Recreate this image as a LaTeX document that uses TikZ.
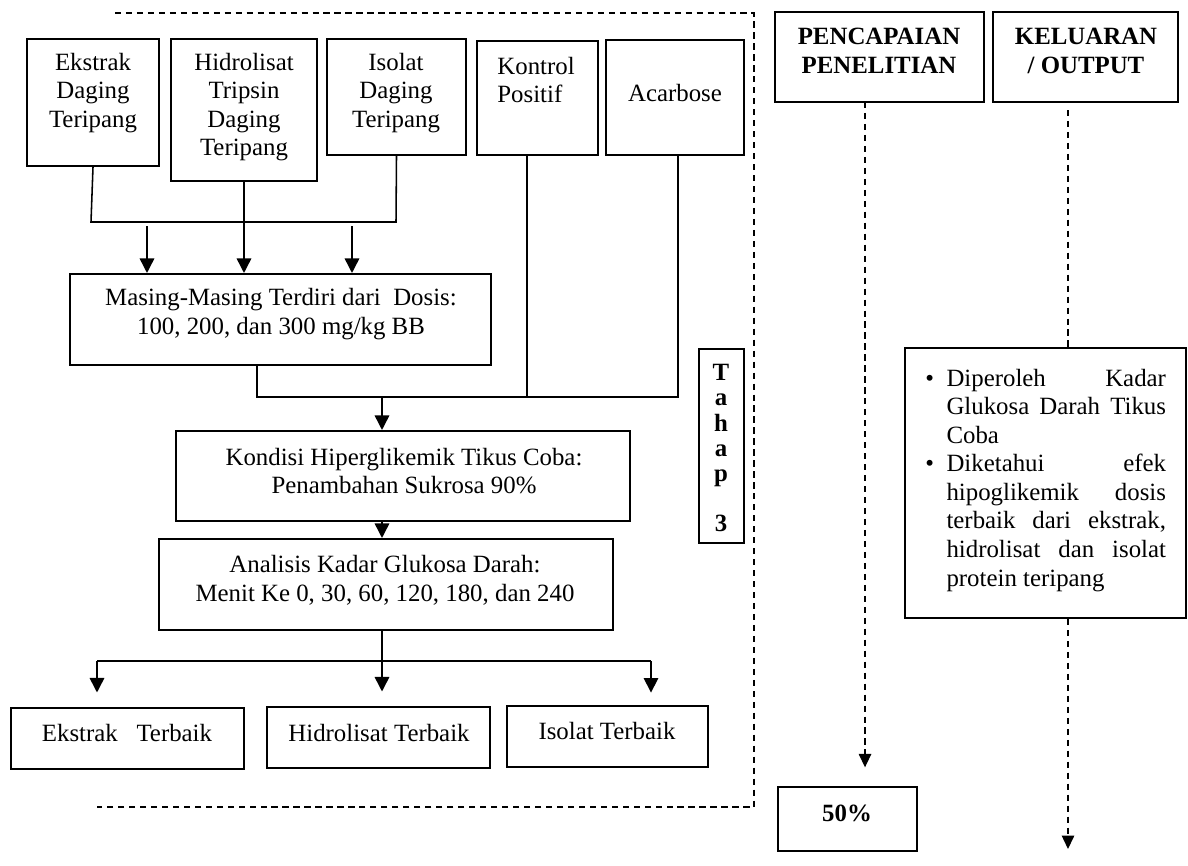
\documentclass[tikz,border=0pt]{standalone}
\usepackage{fontspec}
\setmainfont{Liberation Serif}
\usetikzlibrary{arrows.meta,fit}
\begin{document}
\begin{tikzpicture}[x=0.483pt,y=-0.483pt,
  box/.style={draw, line width=1pt, inner sep=0pt},
  txt/.style={align=center, inner sep=0pt, font=\fontsize{12}{13.8}\selectfont},
  hdr/.style={align=center, inner sep=0pt, font=\fontsize{12}{13.8}\selectfont\bfseries},
  conn/.style={line width=0.75pt},
  arr/.style={conn, -{Triangle[width=7pt,length=7pt]}},
  dsh/.style={line width=0.75pt, dash pattern=on 3pt off 2.3pt},
  darr/.style={dsh, -{Triangle[width=6pt,length=6.5pt]}}]
\useasboundingbox (0,0) rectangle (1188,865);

% dashed frame of stage 3
\draw[dsh] (115,13) -- (754,13) -- (754,807) -- (97,807);

% top boxes
\node[box, fit={(27,39)(159,166)}] (ek) {};
\node[txt] (ekt) at (93,93) {Ekstrak\\Daging\\Teripang};
\node[box, fit={(171,39)(317,181)}] (hi) {};
\node[txt] (hit) at (244,107) {Hidrolisat\\Tripsin\\Daging\\Teripang};
\node[box, fit={(327,39)(466,155)}] (is) {};
\node[txt] (ist) at (396,93) {Isolat\\Daging\\Teripang};
\node[box, fit={(477,41)(598,155)}] (ko) {};
\node[txt, align=left, anchor=west] (kot) at (497,80) {Kontrol\\Positif};
\node[box, fit={(606,40)(744,155)}] (ac) {};
\node[txt] (act) at (675,93) {Acarbose};

% dose box
\node[box, fit={(70,274)(491,365)}] (ma) {};
\node[txt] (mat) at (281,314) {Masing-Masing Terdiri dari~ Dosis:\\100, 200, dan 300 mg/kg BB};

% junction of first three
\coordinate (jA) at (91,222);
\coordinate (jB) at (396,222);
\draw[conn] (ek.south) -- (jA) -- (jB) -- (is.south);
\draw[arr] (hi.south) -- (hi.south |- ma.north);
\coordinate (a1) at (147,226);
\coordinate (a3) at (352,226);
\draw[arr] (a1) -- (a1 |- ma.north);
\draw[arr] (a3) -- (a3 |- ma.north);

% hyperglycemic box
\node[box, fit={(176,431)(630,521)}] (kd) {};
\node[txt] (kdt) at (404,471) {Kondisi Hiperglikemik Tikus Coba:\\Penambahan Sukrosa 90\%};

% second junction
\coordinate (mL) at (257,397);
\coordinate (mK) at (527,397);
\coordinate (mR) at (678,397);
\coordinate (mC) at (382,397);
\draw[conn] (ma.south -| mL) -- (mL) -- (mR) -- (ac.south -| mR);
\draw[conn] (ko.south -| mK) -- (mK);
\draw[arr] (mC) -- (kd.north -| mC);

% analysis box
\node[box, fit={(159,539)(613,630)}] (an) {};
\node[txt] (ant) at (385,580) {Analisis Kadar Glukosa Darah:\\Menit Ke 0, 30, 60, 120, 180, dan 240};
\draw[arr] (kd.south -| mC) -- (an.north -| mC);

% bottom boxes
\node[box, fit={(11,708)(244,769)}] (e1) {};
\node[txt] (e1t) at (127,733) {Ekstrak~~ Terbaik};
\node[box, fit={(267,707)(490,768)}] (e2) {};
\node[txt] (e2t) at (379,733) {Hidrolisat Terbaik};
\node[box, fit={(507,706)(708,767)}] (e3) {};
\node[txt] (e3t) at (607,731) {Isolat Terbaik};

\coordinate (bL) at (97,661);
\coordinate (bC) at (382,661);
\coordinate (bR) at (651,661);
\draw[conn] (an.south -| bC) -- (bC);
\draw[conn] (bL) -- (bR);
\draw[arr, shorten >=7pt] (bL) -- (bL |- e1.north);
\draw[arr, shorten >=7pt] (bC) -- (bC |- e2.north);
\draw[arr, shorten >=6pt] (bR) -- (bR |- e3.north);

% Tahap 3
\node[box, fit={(699,349)(744,543)}] (th) {};
\node[align=center, inner sep=0pt, font=\fontsize{12}{12.2}\selectfont\bfseries, anchor=north] (tht) at (721,364) {T\\a\\h\\a\\p\\[12pt]3};

% right columns
\node[box, fit={(775,12)(984,102)}] (pen) {};
\node[hdr] (pent) at (879,51) {PENCAPAIAN\\PENELITIAN};
\node[box, fit={(993,12)(1178,102)}] (kel) {};
\node[hdr] (kelt) at (1086,51) {KELUARAN\\/ OUTPUT};

\node[box, fit={(778,787)(917,851)}] (p50) {};
\node[hdr] (p50t) at (847,813) {50\%};

\coordinate (pX) at (865,102);
\draw[darr, shorten >=9pt] (pX) -- (p50.north -| pX);

\node[box, fit={(905,348)(1186,618)}] (hs) {};
\node[inner sep=0pt, anchor=base west, font=\fontsize{12}{13.8}\selectfont] (hst) at (925,386) {%
\begin{tabular}[t]{@{}l@{\hspace{6pt}}l@{}}
\textbullet & \makebox[106pt][s]{Diperoleh Kadar}\\
 & \makebox[106pt][s]{Glukosa Darah Tikus}\\
 & Coba\\
\textbullet & \makebox[106pt][s]{Diketahui efek}\\
 & \makebox[106pt][s]{hipoglikemik dosis}\\
 & \makebox[106pt][s]{terbaik dari ekstrak,}\\
 & \makebox[106pt][s]{hidrolisat dan isolat}\\
 & protein teripang
\end{tabular}};

\coordinate (kX) at (1068,110);
\coordinate (kE) at (1068,849);
\draw[dsh] (kX) -- (hs.north -| kX);
\draw[darr] (hs.south -| kE) -- (kE);
\end{tikzpicture}
\end{document}
